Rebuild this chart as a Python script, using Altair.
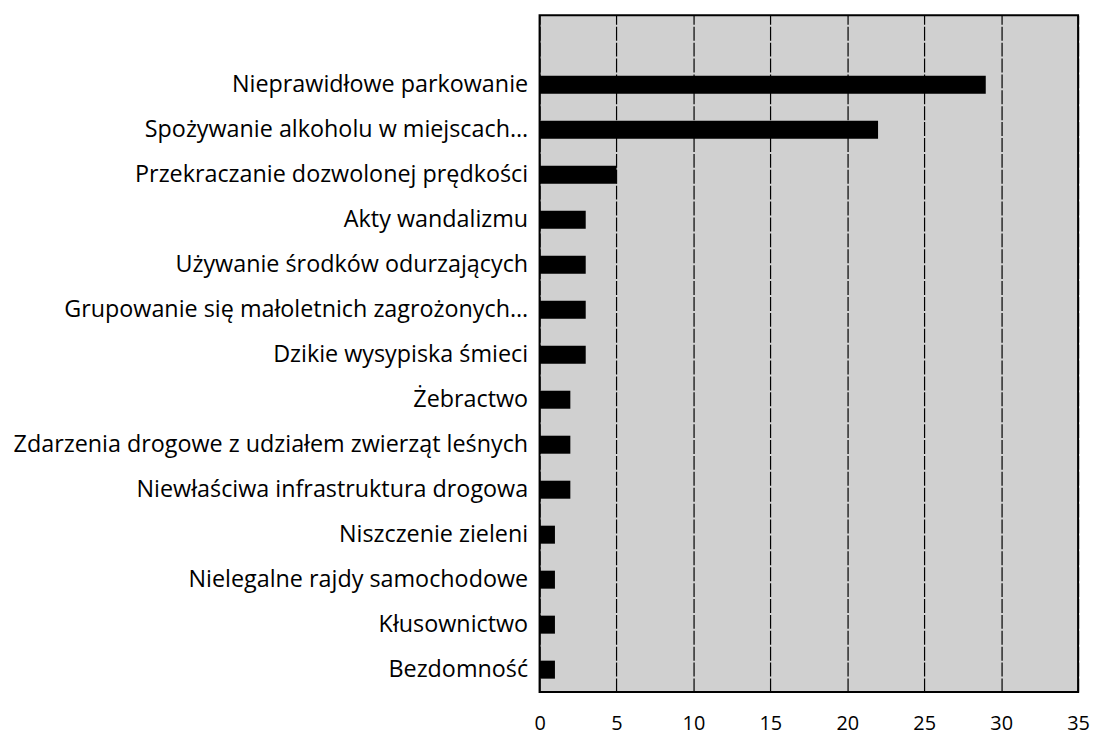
import altair as alt
import pandas as pd

categories = [
    "Nieprawidłowe parkowanie",
    "Spożywanie alkoholu w miejscach…",
    "Przekraczanie dozwolonej prędkości",
    "Akty wandalizmu",
    "Używanie środków odurzających",
    "Grupowanie się małoletnich zagrożonych…",
    "Dzikie wysypiska śmieci",
    "Żebractwo",
    "Zdarzenia drogowe z udziałem zwierząt leśnych",
    "Niewłaściwa infrastruktura drogowa",
    "Niszczenie zieleni",
    "Nielegalne rajdy samochodowe",
    "Kłusownictwo",
    "Bezdomność",
]
values = [29, 22, 5, 3, 3, 3, 3, 2, 2, 2, 1, 1, 1, 1]
x_ticks = [0, 5, 10, 15, 20, 25, 30, 35]

df = pd.DataFrame({"kategoria": categories, "liczba": values})

chart = (
    alt.Chart(df)
    .mark_bar(color="black")
    .encode(
        x=alt.X(
            "liczba:Q",
            scale=alt.Scale(domain=[0, 35], nice=False),
            axis=alt.Axis(
                values=x_ticks,
                title=None,
                grid=True,
                gridColor="black",
                gridWidth=1.2,
                gridDash=[14, 2],
                ticks=False,
                domain=False,
                labelFlush=False,
                labelPadding=22,
                labelFontSize=20,
                labelFont="Open Sans",
                labelColor="black",
            ),
        ),
        y=alt.Y(
            "kategoria:N",
            sort=categories,
            scale=alt.Scale(paddingInner=0.6, paddingOuter=0.82, align=0.82),
            axis=alt.Axis(
                title=None,
                ticks=False,
                domain=False,
                labelPadding=12,
                labelFontSize=23.5,
                labelFont="Open Sans",
                labelColor="black",
                labelLimit=700,
            ),
        ),
    )
    .properties(
        width=542,
        height=681,
        background="white",
        padding={"left": 4, "top": 5, "right": 0, "bottom": 0},
    )
    .configure_view(fill="#d0d0d0", stroke="black", strokeWidth=2)
)

chart.save("out.html", embed_options={"renderer": "svg", "actions": False})
